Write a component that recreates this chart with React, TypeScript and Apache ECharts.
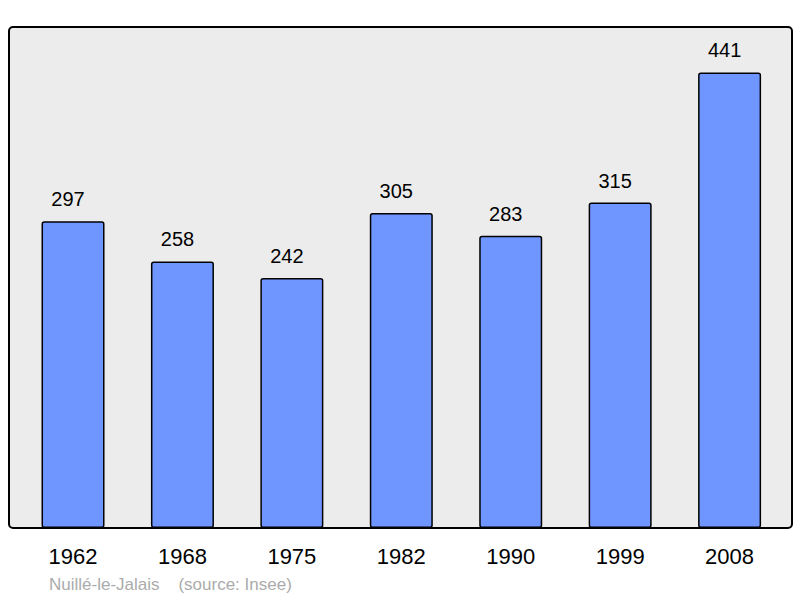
import React, { useEffect, useRef } from "react";
import * as echarts from "echarts";

const years = ["1962", "1968", "1975", "1982", "1990", "1999", "2008"];
const population = [297, 258, 242, 305, 283, 315, 441];
const sourceText = "Nuillé-le-Jalais    (source: Insee)";

const FONT = "'Liberation Sans', Arial, sans-serif";

export default function App() {
  const ref = useRef<HTMLDivElement>(null);
  useEffect(() => {
    if (!ref.current) return;
    const chart = echarts.init(ref.current, undefined, { renderer: "svg" });
    chart.setOption({
      animation: false,
      backgroundColor: "#ffffff",
      textStyle: { fontFamily: FONT },
      grid: { left: 18.3, right: 15.7, top: 27, bottom: 70, containLabel: false },
      graphic: [
        {
          type: "rect",
          z: -10,
          shape: { x: 9, y: 27, width: 783, height: 501, r: 4 },
          style: { fill: "#ececec", stroke: "#000000", lineWidth: 2 },
        },
        {
          type: "text",
          x: 49,
          y: 584,
          style: {
            text: sourceText,
            fill: "#ababab",
            font: `17px ${FONT}`,
            textVerticalAlign: "middle",
            whiteSpace: "pre",
          },
        },
      ],
      xAxis: {
        type: "category",
        data: years,
        axisLine: { show: false },
        axisTick: { show: false },
        axisLabel: { color: "#000", fontSize: 22, margin: 17, fontFamily: FONT },
      },
      yAxis: {
        type: "value",
        min: 0,
        max: 485,
        show: false,
        splitLine: { show: false },
      },
      series: [
        {
          type: "bar",
          data: population,
          barWidth: 63,
          z: 5,
          itemStyle: {
            color: "#6f96ff",
            borderColor: "#000000",
            borderWidth: 1.5,
            borderRadius: 2,
          },
          label: {
            show: true,
            position: "top",
            distance: 12,
            offset: [-5, 0],
            color: "#000",
            fontSize: 20,
            fontFamily: FONT,
          },
        },
      ],
    });
    return () => chart.dispose();
  }, []);
  return (
    <div
      ref={ref}
      style={{ position: "fixed", left: 0, top: 0, width: 800, height: 598 }}
    />
  );
}
